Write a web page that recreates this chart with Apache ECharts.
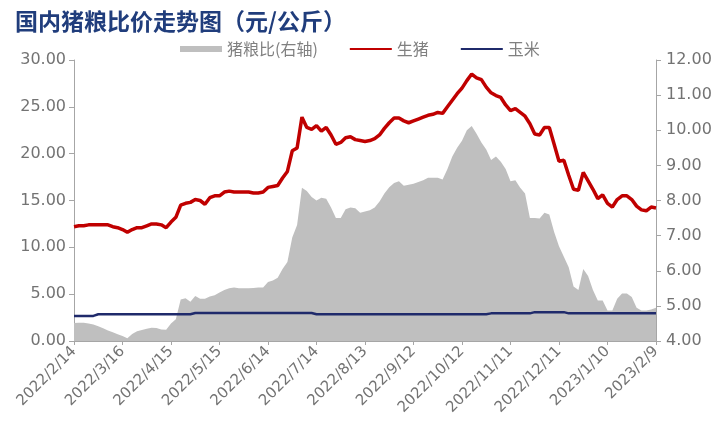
<!DOCTYPE html>
<html>
<head>
<meta charset="utf-8">
<script src="https://cdn.jsdelivr.net/npm/echarts@6/dist/echarts.min.js"></script>
<style>html,body{margin:0;padding:0;background:#fff;}#c{width:719px;height:430px;}</style>
</head>
<body>
<div id="c"></div>
<script>
// Sampling: one point every 3 days from 2022/2/14 to 2023/2/9 (121 points)
const startDate = [2022, 2, 14];
const stepDays = 3;
const pointCount = 121;

// 生猪 (元/公斤), left axis
const hogPrice = [
 12.2,12.3,12.3,12.4,12.4,12.4,12.4,12.4,12.2,12.1,
 11.9,11.6,11.9,12.1,12.1,12.3,12.5,12.5,12.4,12.1,
 12.7,13.2,14.5,14.7,14.8,15.1,15.0,14.6,15.3,15.5,
 15.5,15.9,16.0,15.9,15.9,15.9,15.9,15.8,15.8,15.9,
 16.4,16.5,16.6,17.4,18.1,20.3,20.6,23.9,22.8,22.6,
 23.0,22.4,22.8,22.0,21.0,21.2,21.7,21.8,21.5,21.4,
 21.3,21.4,21.6,22.0,22.7,23.3,23.8,23.8,23.5,23.3,
 23.5,23.7,23.9,24.1,24.2,24.4,24.3,25.0,25.7,26.4,
 27.0,27.8,28.5,28.1,27.9,27.1,26.5,26.2,26.0,25.2,
 24.6,24.8,24.4,24.0,23.2,22.1,22.0,22.8,22.8,21.0,
 19.2,19.3,17.7,16.2,16.1,18.0,17.1,16.2,15.2,15.6,
 14.7,14.3,15.1,15.5,15.5,15.1,14.4,14.0,13.9,14.3,
 14.2
];

// 玉米 (元/公斤), left axis
const cornPrice = [
 2.68,2.68,2.68,2.68,2.68,2.85,2.85,2.85,2.85,2.85,
 2.85,2.85,2.85,2.85,2.85,2.85,2.85,2.85,2.85,2.85,
 2.85,2.85,2.85,2.85,2.85,2.98,2.98,2.98,2.98,2.98,
 2.98,2.98,2.98,2.98,2.98,2.98,2.98,2.98,2.98,2.98,
 2.98,2.98,2.98,2.98,2.98,2.98,2.98,2.98,2.98,2.98,
 2.85,2.85,2.85,2.85,2.85,2.85,2.85,2.85,2.85,2.85,
 2.85,2.85,2.85,2.85,2.85,2.85,2.85,2.85,2.85,2.85,
 2.85,2.85,2.85,2.85,2.85,2.85,2.85,2.85,2.85,2.85,
 2.85,2.85,2.85,2.85,2.85,2.85,2.95,2.95,2.95,2.95,
 2.95,2.95,2.95,2.95,2.95,3.08,3.08,3.08,3.08,3.08,
 3.08,3.08,2.95,2.95,2.95,2.95,2.95,2.95,2.95,2.95,
 2.95,2.95,2.95,2.95,2.95,2.95,2.95,2.95,2.95,2.95,
 2.95
];

// 猪粮比 (右轴)
const hogGrainRatio = [
 4.51,4.52,4.52,4.50,4.47,4.42,4.36,4.30,4.25,4.19,
 4.14,4.08,4.20,4.28,4.31,4.35,4.38,4.37,4.33,4.32,
 4.50,4.62,5.18,5.22,5.12,5.28,5.20,5.20,5.27,5.30,
 5.38,5.45,5.50,5.52,5.50,5.50,5.50,5.51,5.52,5.52,
 5.68,5.72,5.80,6.05,6.25,6.95,7.30,8.36,8.27,8.10,
 8.00,8.08,8.05,7.80,7.50,7.50,7.75,7.80,7.78,7.65,
 7.69,7.72,7.80,7.97,8.20,8.38,8.50,8.55,8.42,8.45,
 8.48,8.53,8.58,8.65,8.65,8.65,8.60,8.90,9.25,9.50,
 9.70,10.00,10.12,9.90,9.65,9.45,9.15,9.25,9.10,8.90,
 8.55,8.58,8.36,8.20,7.50,7.50,7.49,7.65,7.60,7.10,
 6.70,6.40,6.10,5.55,5.45,6.05,5.85,5.45,5.15,5.15,
 4.87,4.87,5.20,5.35,5.35,5.25,4.95,4.87,4.87,4.90,
 4.95
];

const leftTicks = {min: 0, max: 30, interval: 5};
const rightTicks = {min: 4, max: 12, interval: 1};
const seriesNames = ['猪粮比(右轴)', '生猪', '玉米'];
const titleText = '国内猪粮比价走势图（元/公斤）';

const categories = [];
{
  const t0 = Date.UTC(startDate[0], startDate[1] - 1, startDate[2]);
  for (let i = 0; i < pointCount; i++) {
    const d = new Date(t0 + i * stepDays * 86400000);
    categories.push(d.getUTCFullYear() + '/' + (d.getUTCMonth() + 1) + '/' + d.getUTCDate());
  }
}

const chart = echarts.init(document.getElementById('c'));
const axisGrey = '#a6a6a6';
const labelGrey = '#737373';
const legendText = {fontFamily: 'Noto Sans CJK SC', fontSize: 16, color: '#808080'};
chart.setOption({
  animation: false,
  backgroundColor: '#ffffff',
  title: {
    text: titleText, left: 10, top: 5,
    textStyle: {fontFamily: 'Noto Sans CJK SC', fontWeight: 'bold', fontSize: 23, color: '#203d7c'}
  },
  legend: {
    data: [
      {name: seriesNames[0], icon: 'rect'},
      {name: seriesNames[1], itemStyle: {opacity: 0}},
      {name: seriesNames[2], itemStyle: {opacity: 0}}
    ],
    left: 175, top: 36, itemWidth: 42, itemHeight: 6, itemGap: 31,
    textStyle: legendText
  },
  grid: {left: 74, right: 63, top: 60, bottom: 89, containLabel: false},
  xAxis: {
    type: 'category', data: categories, boundaryGap: false,
    axisLine: {lineStyle: {color: axisGrey, width: 1}},
    axisTick: {show: true, interval: 9, length: 4, lineStyle: {color: axisGrey}},
    axisLabel: {interval: 9, rotate: 45, margin: 8, fontFamily: 'DejaVu Sans', fontSize: 15, color: labelGrey}
  },
  yAxis: [
    {
      type: 'value', min: leftTicks.min, max: leftTicks.max, interval: leftTicks.interval,
      splitLine: {show: false},
      axisLine: {show: true, lineStyle: {color: axisGrey}},
      axisTick: {show: true, length: 5, lineStyle: {color: axisGrey}},
      axisLabel: {margin: 8, formatter: v => v.toFixed(2), fontFamily: 'DejaVu Sans', fontSize: 16, color: labelGrey}
    },
    {
      type: 'value', min: rightTicks.min, max: rightTicks.max, interval: rightTicks.interval,
      splitLine: {show: false},
      axisLine: {show: true, lineStyle: {color: axisGrey}},
      axisTick: {show: true, length: 5, lineStyle: {color: axisGrey}},
      axisLabel: {margin: 10, formatter: v => v.toFixed(2), fontFamily: 'DejaVu Sans', fontSize: 16, color: labelGrey}
    }
  ],
  series: [
    {
      name: seriesNames[0], type: 'line', yAxisIndex: 1, data: hogGrainRatio,
      symbol: 'none', smooth: false,
      lineStyle: {width: 0, color: '#bfbfbf'},
      itemStyle: {color: '#bfbfbf'},
      areaStyle: {color: '#bfbfbf', opacity: 1, origin: 'start'},
      z: 1
    },
    {
      name: seriesNames[1], type: 'line', yAxisIndex: 0, data: hogPrice,
      symbol: 'none', lineStyle: {width: 3.5, color: '#c00000'}, itemStyle: {color: '#c00000'}, z: 3
    },
    {
      name: seriesNames[2], type: 'line', yAxisIndex: 0, data: cornPrice,
      symbol: 'none', lineStyle: {width: 2.5, color: '#1f2a6b'}, itemStyle: {color: '#1f2a6b'}, z: 2
    }
  ]
});
</script>
</body>
</html>
